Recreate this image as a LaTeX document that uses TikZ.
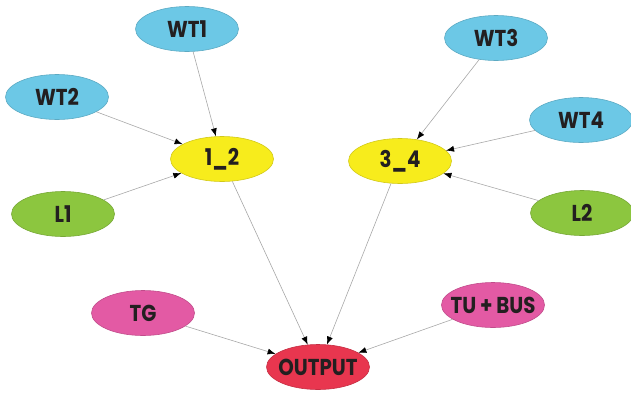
\documentclass[tikz,border=0pt]{standalone}
\usepackage{fontspec}
\newfontfamily\nodefont{Poppins}[FakeStretch=0.86]
\usetikzlibrary{shapes.geometric,arrows.meta}
\definecolor{cblue}{HTML}{6CC8E6}
\definecolor{cyellow}{HTML}{F7EC1C}
\definecolor{cgreen}{HTML}{8CC63F}
\definecolor{cpink}{HTML}{E35AA4}
\definecolor{cred}{HTML}{E8364F}
\definecolor{ctext}{HTML}{231F20}
\definecolor{cedge}{HTML}{A8A8A8}
\begin{document}
\begin{tikzpicture}[x=1pt,y=-1pt,
  blob/.style={ellipse, minimum width=103pt, minimum height=45pt, inner xsep=-6pt, inner ysep=0pt,
    font=\nodefont\fontsize{23}{23}\selectfont\bfseries, text=ctext, line width=0.6pt},
  bluen/.style={blob, fill=cblue, draw=cblue!85!black},
  yelln/.style={blob, fill=cyellow, draw=cyellow!85!black},
  greenn/.style={blob, fill=cgreen, draw=cgreen!85!black},
  pinkn/.style={blob, fill=cpink, draw=cpink!85!black},
  redn/.style={blob, fill=cred, draw=cred!85!black},
  link/.style={draw=cedge, line width=0.6pt, -{Latex[length=8pt,width=6pt,color=black]}}]
\useasboundingbox (0,0) rectangle (631,394);
\node[bluen] (wt1) at (187,29) {WT1};
\node[bluen] (wt2) at (57,97) {WT2};
\node[yelln] (n12) at (222,159) {1\_2};
\node[greenn] (l1) at (63,214) {L1};
\node[bluen] (wt3) at (496,38) {WT3};
\node[bluen] (wt4) at (581,120) {WT4};
\node[yelln] (n34) at (400,161) {3\_4};
\node[greenn] (l2) at (582,213) {L2};
\node[pinkn] (tg) at (143,313) {TG};
\node[pinkn] (tubus) at (493,305) {TU\,+\,BUS};
\node[redn] (out) at (318,367) {OUTPUT};
\draw[link] (wt1) -- (n12);
\draw[link] (wt2) -- (n12);
\draw[link] (l1) -- (n12);
\draw[link] (wt3) -- (n34);
\draw[link] (wt4) -- (n34);
\draw[link] (l2) -- (n34);
\draw[link] (n12) -- (out);
\draw[link] (n34) -- (out);
\draw[link] (tg) -- (out);
\draw[link] (tubus) -- (out);
\end{tikzpicture}
\end{document}
